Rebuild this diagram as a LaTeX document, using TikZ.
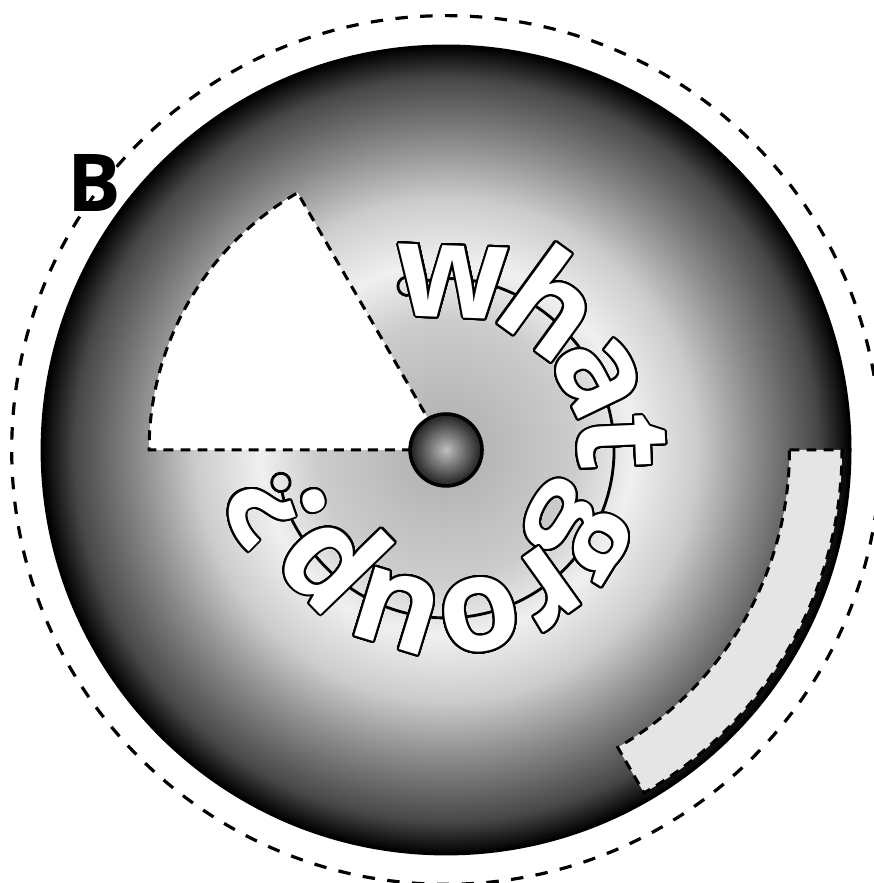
\documentclass[tikz,border=0pt]{standalone}
\usepackage{fontspec}
\newfontfamily\ringsans{Open Sans}
\usepackage{contour}
\contourlength{0.55pt}
\contournumber{32}
\usetikzlibrary{arrows.meta, decorations.text}

\pgfdeclareradialshading{diskshade}{\pgfpointorigin}{color(0bp)=(black!32); color(8bp)=(black!20); color(11.5bp)=(black!6); color(15.5bp)=(black!20); color(19bp)=(black!45); color(23bp)=(black!72); color(25bp)=(black); color(50bp)=(black)}
\pgfdeclareradialshading{ballshade}{\pgfpointorigin}{color(0bp)=(black!25); color(25bp)=(black!88); color(50bp)=(black!88)}

\newcommand\outlinechar[1]{\contour{black}{#1}}

\begin{document}
\begin{tikzpicture}[
  sectorline/.style={line width=0.85pt, dash pattern=on 2.8pt off 2pt},
  ringfont/.style={font=\ringsans\bfseries\fontsize{37}{40}\selectfont}]
  \useasboundingbox (-4.416,-4.287) rectangle (4.228,4.455);
  % outer guide
  \draw[line width=0.9pt, dash pattern=on 3.5pt off 3.5pt] (0,0) circle (4.3);
  % disk
  \shade[shading=diskshade] (0,0) circle (4);
  \draw[line width=0.8pt] (0,0) circle (4);
  % cut-out sector and light band
  \draw[sectorline, fill=white] (0,0) -- (180:2.94) arc (180:120:2.94) -- cycle;
  \draw[sectorline, fill=gray!20] (0:3.4) -- (0:3.92) arc (0:-60:3.92) -- (-60:3.4) arc (-60:0:3.4) -- cycle;
  % text path
  \coordinate (pathstart) at (107:1.663);
  \draw[line width=0.8pt, {Circle[open,length=6pt]}-{Circle[open,length=6pt]}] (pathstart) arc (107:-172.5:1.663);
  \path[ringfont, decorate, decoration={text effects along path,
      text={what group?}, raise=-0.35cm, text align={left indent=0.15cm},
      text effects/.cd, text along path, character command=\outlinechar,
      characters={text=white, ringfont}}] (pathstart) arc (107:-172.5:1.663);
  % hub
  \node[circle, draw, line width=1pt, minimum size=0.712cm, shade, shading=ballshade] (hub) at (0,0) {};
  % panel label
  \node[font=\ringsans\bfseries\fontsize{22.5}{24}\selectfont] (panel) at (-3.485,2.644) {B};
\end{tikzpicture}
\end{document}
